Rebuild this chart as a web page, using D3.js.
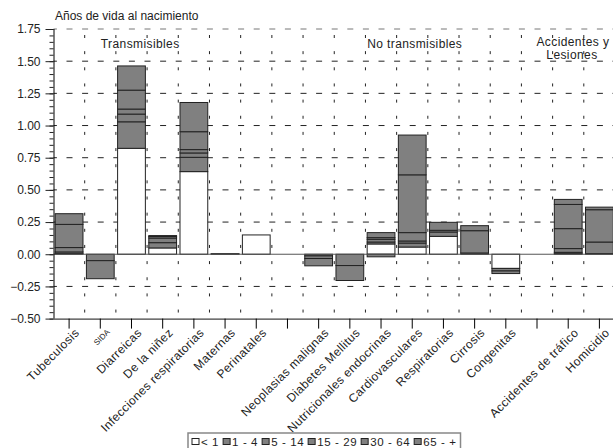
<!DOCTYPE html>
<html>
<head>
<meta charset="utf-8">
<script src="https://cdn.jsdelivr.net/npm/d3@7"></script>
<style>
  body { margin: 0; background: #fff; }
  text { font-family: "Liberation Sans", Arial, sans-serif; fill: #222; }
</style>
</head>
<body>
<div id="chart"></div>
<script>
(function(){

var categories = ["Tubeculosis", "SIDA", "Diarreicas", "De la niñez", "Infecciones respiratorias",
    "Maternas", "Perinatales", "", "Neoplasias malignas", "Diabetes Mellitus",
    "Nutricionales endocrinas", "Cardiovasculares", "Respiratorias", "Cirrosis", "Congenitas",
    "", "Accidentes de tráfico", "Homicidio"];

var ageGroups = ["< 1", "1 - 4", "5 - 14", "15 - 29", "30 - 64", "65 - +"];

// one array per age group, one value per category
var menos1 = [0.005, 0, 0.823, 0.049, 0.642, 0, 0.15, 0, 0, 0, 0.08, 0.056, 0.139, 0, -0.11, 0, 0.005, 0];
var de1a4 = [0.013, 0, 0.206, 0.041, 0.111, 0, 0, 0, 0, 0, 0.015, 0.031, 0.034, 0, -0.02, 0, 0.01, 0.005];
var de5a14 = [0.034, 0, 0.06, 0.036, 0.034, 0, 0, 0, -0.013, 0, 0.021, 0.016, 0.013, 0, -0.02, 0, 0.029, 0.09];
var de15a29 = [0.18, -0.05, 0.039, 0.012, 0.026, 0.002, 0, 0, -0.02, 0, 0.013, 0.065, 0, 0.01, 0, 0, 0.155, 0.251];
var de30a64 = [0.083, -0.14, 0.147, 0.007, 0.139, 0.002, 0, 0, -0.057, -0.088, -0.02, 0.449, 0, 0.173, 0, 0, 0.188, 0.02];
var mas65 = [0, 0, 0.188, 0, 0.227, 0, 0, 0, 0, -0.116, 0.039, 0.309, 0.062, 0.039, 0, 0, 0.039, 0];

var yTicks = [-0.5, -0.25, 0, 0.25, 0.5, 0.75, 1, 1.25, 1.5, 1.75];

var groups = [
  {label: "Transmisibles", at: 2.28, dy: 0},
  {label: "No transmisibles", at: 11.08, dy: 0},
  {label: "Accidentes y", at: 16.15, dy: -2},
  {label: "Lesiones", at: 16.12, dy: 11}
];

var series = [menos1, de1a4, de5a14, de15a29, de30a64, mas65];
var fills = ["#ffffff", "#808080", "#808080", "#808080", "#808080", "#808080"];

var margin = {top: 29, left: 53.5},
    width = 561.5,
    height = 289.6;

var rows = categories.map(function(c, i) {
  var r = {i: i};
  ageGroups.forEach(function(a, k) { r[a] = series[k][i]; });
  return r;
});

var stacked = d3.stack()
    .keys(ageGroups)
    .offset(d3.stackOffsetDiverging)(rows);

var x = d3.scaleBand().domain(d3.range(categories.length)).range([0, width]).paddingInner(0.11).paddingOuter(0.055);
var y = d3.scaleLinear().domain([-0.5, 1.75]).range([height, 0]);
var step = x.step();

var svg = d3.select("#chart").append("svg")
    .attr("width", 613)
    .attr("height", 448);

var g = svg.append("g")
    .attr("transform", "translate(" + margin.left + "," + margin.top + ")");

// grid
g.selectAll(".hgrid")
    .data(yTicks.filter(function(v) { return v !== 0 && v !== -0.5; }))
  .enter().append("line")
    .attr("x1", 0).attr("x2", width)
    .attr("y1", function(d) { return y(d); }).attr("y2", function(d) { return y(d); })
    .style("stroke", function(d) { return d === 1.75 ? "#777" : "#222"; })
    .style("stroke-dasharray", "6,9.6")
    .style("stroke-dashoffset", -13);

g.selectAll(".vgrid")
    .data(d3.range(1, categories.length))
  .enter().append("line")
    .attr("x1", function(d) { return d * step; }).attr("x2", function(d) { return d * step; })
    .attr("y1", 0).attr("y2", height)
    .style("stroke", "#222")
    .style("stroke-dasharray", "3,13.15")
    .style("stroke-dashoffset", -6);

// bars
g.selectAll(".serie")
    .data(stacked)
  .enter().append("g")
    .style("fill", function(d, k) { return fills[k]; })
  .selectAll("rect")
    .data(function(d) { return d.filter(function(s) { return s[0] !== s[1]; }); })
  .enter().append("rect")
    .attr("x", function(d) { return x(d.data.i); })
    .attr("width", x.bandwidth())
    .attr("y", function(d) { return y(Math.max(d[0], d[1])); })
    .attr("height", function(d) { return Math.abs(y(d[0]) - y(d[1])); })
    .style("stroke", "#222")
    .style("stroke-width", 1);

// zero line
g.append("line")
    .attr("x1", 0).attr("x2", width)
    .attr("y1", y(0)).attr("y2", y(0))
    .style("stroke", "#555");

// y axis
var yMinor = g.append("g")
    .call(d3.axisLeft(y).tickValues(d3.range(-0.5, 1.76, 0.05)).tickSize(4).tickFormat(""));
yMinor.select(".domain").remove();

var yAxis = g.append("g")
    .call(d3.axisLeft(y).tickValues(yTicks).tickSize(8).tickPadding(5).tickFormat(d3.format(".2f")));
yAxis.select(".domain").attr("d", "M0.5," + y(1.75) + "V" + height);
yAxis.selectAll("text").style("font-size", "12px");
g.selectAll(".tick line").style("stroke", "#222");

// x axis
var xAxis = g.append("g")
    .attr("transform", "translate(0," + height + ")")
    .call(d3.axisBottom(x).tickSize(10).tickFormat(function(i) { return categories[i]; }));
xAxis.select(".domain").attr("d", "M0,0.5H" + width).style("stroke", "#111");
xAxis.selectAll("text")
    .attr("text-anchor", "end")
    .attr("transform", "translate(8,12) rotate(-45)")
    .attr("dy", "0.35em")
    .attr("y", 0)
    .style("font-size", "12px")
    .style("letter-spacing", "0.4px");
xAxis.selectAll(".tick text").filter(function(i) { return categories[i] === "SIDA"; })
    .style("font-size", "8px")
    .style("letter-spacing", "0px");

// group labels
g.selectAll(".grupo")
    .data(groups)
  .enter().append("text")
    .attr("x", function(d) { return d.at * step + step / 2; })
    .attr("y", 19)
    .attr("dy", function(d) { return d.dy; })
    .attr("text-anchor", "middle")
    .style("font-size", "12px")
    .style("letter-spacing", "0.4px")
    .text(function(d) { return d.label; });

// title
svg.append("text")
    .attr("x", 55)
    .attr("y", 20)
    .style("font-size", "12px")
    .text("Años de vida al nacimiento");

// legend
var leg = svg.append("g").attr("transform", "translate(188,433)");
var legBox = leg.append("rect")
    .attr("x", 0).attr("y", 0).attr("height", 20)
    .style("fill", "#fff").style("stroke", "#888").style("stroke-width", 1.5);
var lx = 4;
ageGroups.forEach(function(a, k) {
  leg.append("rect")
      .attr("x", lx).attr("y", 5.5).attr("width", 7).attr("height", 6)
      .style("fill", fills[k]).style("stroke", "#222");
  var t = leg.append("text")
      .attr("x", lx + 9).attr("y", 12.5)
      .style("font-size", "11.5px")
      .style("letter-spacing", "0.6px")
      .text(a);
  lx += 9 + t.node().getComputedTextLength() + 4;
});
legBox.attr("width", lx);

})();
</script>
</body>
</html>
